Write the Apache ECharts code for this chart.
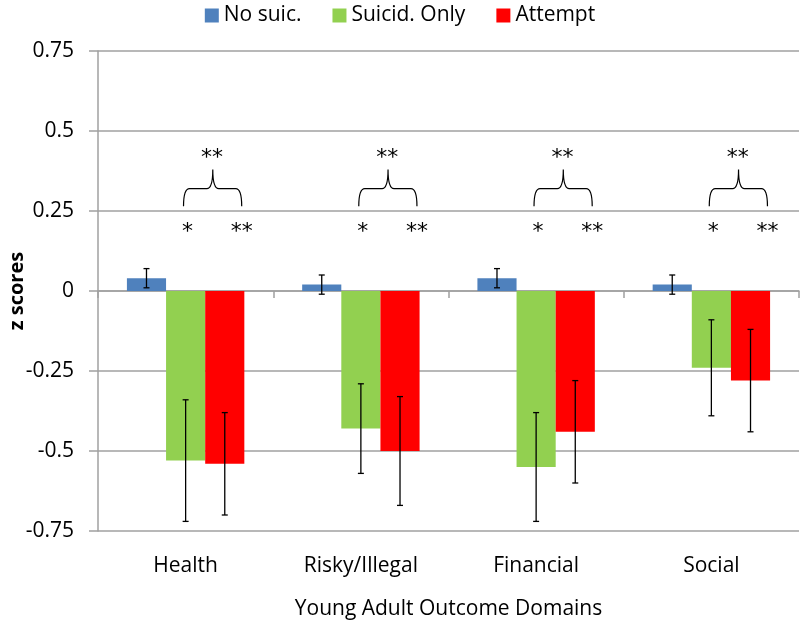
<!DOCTYPE html>
<html>
<head>
<meta charset="utf-8">
<script src="https://cdn.jsdelivr.net/npm/echarts@6/dist/echarts.min.js"></script>
<style>html,body{margin:0;padding:0;background:#fff}#c{width:800px;height:620px}</style>
</head>
<body>
<div id="c"></div>
<script>
const categories = ['Health', 'Risky/Illegal', 'Financial', 'Social'];
const seriesNames = ['No suic.', 'Suicid. Only', 'Attempt'];
const noSuic = [0.04, 0.02, 0.04, 0.02];
const noSuicLow = [0.01, -0.01, 0.01, -0.01];
const noSuicHigh = [0.07, 0.05, 0.07, 0.05];
const suicidOnly = [-0.53, -0.43, -0.55, -0.24];
const suicidOnlyLow = [-0.72, -0.57, -0.72, -0.39];
const suicidOnlyHigh = [-0.34, -0.29, -0.38, -0.09];
const attempt = [-0.54, -0.50, -0.44, -0.28];
const attemptLow = [-0.70, -0.67, -0.60, -0.44];
const attemptHigh = [-0.38, -0.33, -0.28, -0.12];
const yTicks = [-0.75, -0.5, -0.25, 0, 0.25, 0.5, 0.75];
const sigSuicid = ['*', '*', '*', '*'];
const sigAttempt = ['**', '**', '**', '**'];
const sigBetween = ['**', '**', '**', '**'];

const colors = ['#4f81bd', '#92d050', '#ff0000'];
const FONT = 'Open Sans';
const GAP = 0.33;

const chart = echarts.init(document.getElementById('c'));

function errSeries(k, low, high) {
  return {
    type: 'custom',
    name: seriesNames[k] + ' err',
    xAxisIndex: 0,
    z: 5,
    silent: true,
    data: categories.map((c, i) => [i, low[i], high[i]]),
    renderItem: function (params, api) {
      const x = api.value(0);
      const lo = api.coord([x, api.value(1)]);
      const hi = api.coord([x, api.value(2)]);
      const catW = api.size([1, 0])[0];
      const bw = catW * (1 - GAP) / 3;
      const cx = lo[0] + (k - 1) * bw;
      const cap = 3;
      const st = { stroke: '#000', lineWidth: 1.3 };
      return {
        type: 'group',
        children: [
          { type: 'line', shape: { x1: cx, y1: lo[1], x2: cx, y2: hi[1] }, style: st },
          { type: 'line', shape: { x1: cx - cap, y1: lo[1], x2: cx + cap, y2: lo[1] }, style: st },
          { type: 'line', shape: { x1: cx - cap, y1: hi[1], x2: cx + cap, y2: hi[1] }, style: st }
        ]
      };
    }
  };
}

const annotSeries = {
  type: 'custom',
  name: 'annot',
  xAxisIndex: 0,
  z: 6,
  silent: true,
  data: categories.map((c, i) => [i]),
  renderItem: function (params, api) {
    const i = api.value(0);
    const catW = api.size([1, 0])[0];
    const c0 = api.coord([i, 0]);
    const cx = c0[0];
    const yStar = api.coord([i, 0.20])[1];
    const yTop = api.coord([i, 0.43])[1];
    const yTip = api.coord([i, 0.265])[1];
    const yBar = api.coord([i, 0.32])[1];
    const yPeak = api.coord([i, 0.38])[1];
    const left = cx - 0.012 * catW;
    const right = cx + 0.32 * catW;
    const mid = cx + 0.155 * catW;
    const r = 6;
    const path = 'M' + left + ',' + yTip +
      ' Q' + left + ',' + yBar + ' ' + (left + r) + ',' + yBar +
      ' L' + (mid - r) + ',' + yBar +
      ' Q' + mid + ',' + yBar + ' ' + mid + ',' + yPeak +
      ' Q' + mid + ',' + yBar + ' ' + (mid + r) + ',' + yBar +
      ' L' + (right - r) + ',' + yBar +
      ' Q' + right + ',' + yBar + ' ' + right + ',' + yTip;
    const ts = (t, x, y) => ({
      type: 'text',
      x: x, y: y,
      style: { text: t, fill: '#000', font: '22px "DejaVu Sans"', align: 'center', verticalAlign: 'middle' }
    });
    return {
      type: 'group',
      children: [
        { type: 'path', shape: { pathData: path }, style: { stroke: '#000', lineWidth: 1.2, fill: null } },
        ts(sigSuicid[i], cx + 0.01 * catW, yStar + 5),
        ts(sigAttempt[i], cx + 0.32 * catW, yStar + 5),
        ts(sigBetween[i], cx + 0.15 * catW, yTop + 5)
      ]
    };
  }
};

const option = {
  backgroundColor: '#fff',
  animation: false,
  color: colors,
  textStyle: { fontFamily: FONT },
  legend: {
    data: seriesNames,
    top: 0,
    left: 'center',
    itemWidth: 14,
    itemHeight: 14,
    itemGap: 31,
    icon: 'rect',
    textStyle: { fontFamily: FONT, fontSize: 21, color: '#000' }
  },
  grid: { left: 98, right: 1, top: 51, bottom: 89, containLabel: false, outerBoundsMode: 'none' },
  xAxis: [
    {
      type: 'category',
      data: categories,
      position: 'top',
      axisLine: { show: true, onZero: true, lineStyle: { color: '#a0a0a0', width: 1.5 } },
      axisTick: { show: true, inside: true, length: 7, lineStyle: { color: '#a0a0a0', width: 1.5 } },
      axisLabel: { show: false },
      splitLine: { show: false }
    },
    {
      type: 'category',
      data: categories,
      position: 'bottom',
      axisLine: { show: false, onZero: false },
      axisTick: { show: false },
      axisLabel: { show: true, margin: 25, fontFamily: FONT, fontSize: 21, color: '#000' },
      name: 'Young Adult Outcome Domains',
      nameLocation: 'middle',
      nameGap: 68,
      nameMoveOverlap: false,
      nameTextStyle: { fontFamily: FONT, fontSize: 21, color: '#000' }
    }
  ],
  yAxis: {
    type: 'value',
    min: yTicks[0],
    max: yTicks[yTicks.length - 1],
    interval: 0.25,
    axisLine: { show: true, lineStyle: { color: '#a0a0a0', width: 1.5 } },
    axisTick: { show: true, length: 9, lineStyle: { color: '#a0a0a0', width: 1.5 } },
    axisLabel: { margin: 24, fontFamily: FONT, fontSize: 21, color: '#000' },
    splitLine: { show: true, lineStyle: { color: '#a0a0a0', width: 1.5 } },
    name: 'z scores',
    nameLocation: 'middle',
    nameRotate: 90,
    nameGap: 71,
    nameMoveOverlap: false,
    nameTextStyle: { fontFamily: FONT, fontSize: 20, fontWeight: 'bold', color: '#000' }
  },
  series: [
    { type: 'bar', name: seriesNames[0], xAxisIndex: 0, data: noSuic, barGap: 0, barCategoryGap: (GAP * 100) + '%', itemStyle: { color: colors[0] } },
    { type: 'bar', name: seriesNames[1], xAxisIndex: 0, data: suicidOnly, barGap: 0, barCategoryGap: (GAP * 100) + '%', itemStyle: { color: colors[1] } },
    { type: 'bar', name: seriesNames[2], xAxisIndex: 0, data: attempt, barGap: 0, barCategoryGap: (GAP * 100) + '%', itemStyle: { color: colors[2] } },
    errSeries(0, noSuicLow, noSuicHigh),
    errSeries(1, suicidOnlyLow, suicidOnlyHigh),
    errSeries(2, attemptLow, attemptHigh),
    annotSeries
  ]
};
chart.setOption(option);
</script>
</body>
</html>
